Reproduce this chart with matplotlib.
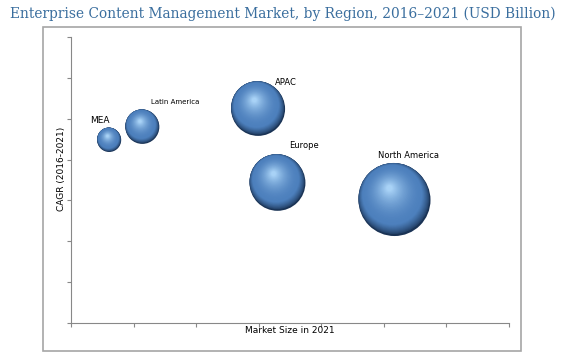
import matplotlib.pyplot as plt
import matplotlib.transforms as mtransforms
import numpy as np
from matplotlib.colors import to_rgb
from matplotlib.patches import Rectangle

# Data (axis values, no numeric ticks shown)
regions = ['MEA', 'Latin America', 'APAC', 'Europe', 'North America']
market_size = [0.61, 1.14, 2.99, 3.30, 5.17]
cagr = [4.48, 4.80, 5.24, 3.43, 3.01]
bubble_size = [300, 600, 1510, 1620, 2690]  # marker area, pt^2
label_fs = [6.5, 5.0, 6.0, 6.0, 6.0]
label_dx = [-7, 24, 20, 19, 10]
label_dy = [14, 18, 19, 27, 32]

fig = plt.figure(figsize=(5.65, 3.58), dpi=100)
fig.patches.append(Rectangle((43 / 565, 1 - 351 / 358), 478 / 565, 324 / 358,
                             transform=fig.transFigure, fill=False,
                             edgecolor='#a6a6a6', linewidth=1.2))
ax = fig.add_axes([71 / 565, 1 - 323 / 358, 438 / 565, 286 / 358])

edge = np.array(to_rgb('#1a3355'))
body = np.array(to_rgb('#4d80bd'))
light = np.array(to_rgb('#a8d2f6'))

# fake 3D spheres: stacked scatter discs shifted toward the highlight
steps = 60
for x, y, s in zip(market_size, cagr, bubble_size):
    r = np.sqrt(s) / 2  # radius in points
    for k in range(steps):
        t = k / (steps - 1)
        if t < 0.18:
            c = edge + (body - edge) * (t / 0.18) ** 0.6
        else:
            c = body + (light - body) * ((t - 0.18) / 0.82) ** 1.8
        tr = mtransforms.offset_copy(ax.transData, fig=fig,
                                     x=-0.14 * r * np.sqrt(t), y=0.33 * r * np.sqrt(t),
                                     units='points')
        ax.scatter([x], [y], s=s * (1 - 0.92 * t) ** 2, color=c,
                   edgecolors='none', transform=tr, zorder=2 + k)

for name, x, y, fs, dx, dy in zip(regions, market_size, cagr, label_fs, label_dx, label_dy):
    ax.annotate(name, (x, y), xytext=(dx, dy), textcoords='offset points',
                ha='center', va='center', fontsize=fs, color='black')

ax.set_xlim(0, 7)
ax.set_ylim(0, 7)
ax.set_xticks(range(8))
ax.set_yticks(range(8))
ax.set_xticklabels([])
ax.set_yticklabels([])
ax.tick_params(length=3, color='#888888', width=0.8)
for side in ['top', 'right']:
    ax.spines[side].set_visible(False)
for side in ['left', 'bottom']:
    ax.spines[side].set_color('#888888')
ax.set_xlabel('Market Size in 2021', fontsize=6.5)
ax.set_ylabel('CAGR (2016-2021)', fontsize=6.5)
ax.xaxis.set_label_coords(0.5, -0.012)
ax.yaxis.set_label_coords(-0.012, 0.54)

fig.text(0.5, 1 - 14 / 358, 'Enterprise Content Management Market, by Region, 2016\u20132021 (USD Billion)',
         ha='center', va='center', fontsize=9.9, color='#3a6e9e', family='DejaVu Serif')

plt.savefig('out.png', dpi=100)
